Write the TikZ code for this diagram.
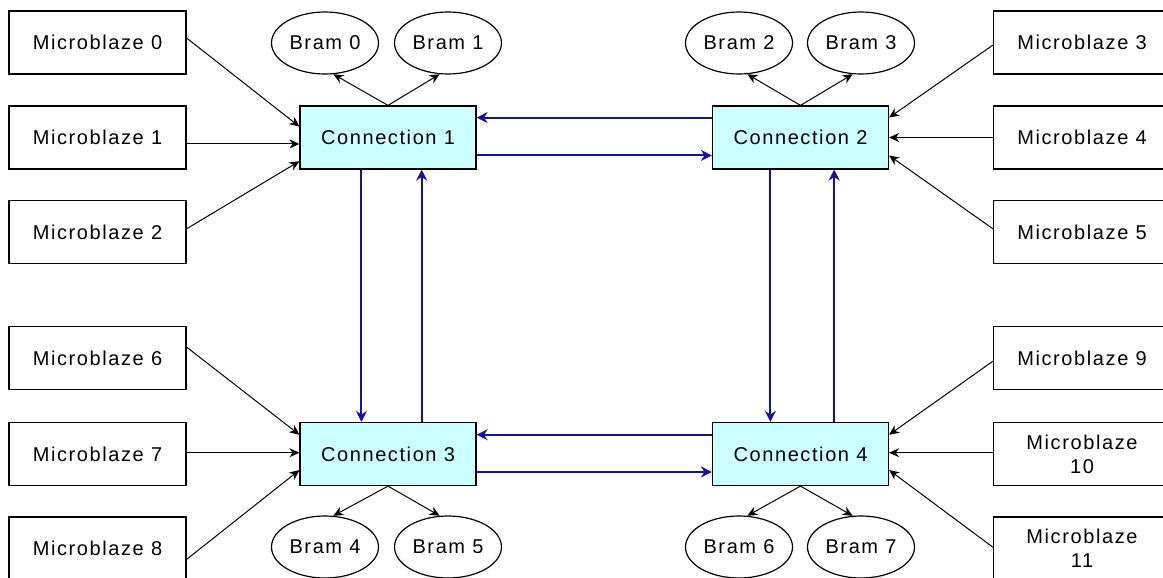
\documentclass[tikz,border=0pt]{standalone}
\usepackage{fontspec}
\setmainfont{Liberation Sans}[LetterSpace=8]
\usepackage{tikz}
\usetikzlibrary{positioning,calc,shapes.geometric,arrows.meta}
\definecolor{conncyan}{RGB}{204,255,255}
\definecolor{linkblue}{RGB}{20,20,150}
\tikzset{
	every mb/.style={
		draw,
		rectangle,
		line width=0.6pt,
		minimum width=88.5pt,
		minimum height=31.5pt,
		inner sep=0pt,
		align=center },
	every conn/.style={
		draw,
		fill=conncyan,
		line width=0.6pt,
		minimum width=88pt,
		minimum height=31.5pt,
		inner sep=0pt },
	every bram/.style={
		draw,
		ellipse,
		line width=0.6pt,
		minimum width=53.5pt,
		minimum height=31pt,
		inner sep=0pt },
	wire/.style={
		->,
		line width=0.5pt,
		>={Stealth[length=5pt,width=4.5pt]} },
	link/.style={
		->,
		draw=linkblue,
		line width=1pt,
		>={Stealth[length=5.5pt,width=5.5pt]} },
}

\begin{document}
\begin{tikzpicture}[x=0.5pt, y=-0.5pt]

		\useasboundingbox (0,0) rectangle (1163,578);

		% processors, left and right columns
		\foreach \m/\l/\y in {0/Microblaze 0/42.5, 1/Microblaze 1/137.5, 2/Microblaze 2/232,
			6/Microblaze 6/358, 7/Microblaze 7/454, 8/Microblaze 8/548.5}
		\node [every mb/.try] (mb-\m) at (97.5,\y) {\l};

		\foreach \m/\l/\y in {3/Microblaze 3/42.5, 4/Microblaze 4/137.5, 5/Microblaze 5/232,
			9/Microblaze 9/358, 10/Microblaze\\10/454, 11/Microblaze\\11/548.5}
		\node [every mb/.try] (mb-\m) at (1082,\y) {\l};

		% connection blocks
		\foreach \c/\x/\y in {1/388/137.5, 2/800.5/137.5, 3/388/454, 4/800.5/454}
		\node [every conn/.try] (conn-\c) at (\x,\y) {Connection \c};

		% memories
		\foreach \b/\x/\y in {0/325/43, 1/448/43, 2/739/43, 3/861/43,
			4/325/547, 5/448/547, 6/739/547, 7/861/547}
		\node [every bram/.try] (bram-\b) at (\x,\y) {Bram \b};

		\foreach \c/\a/\b in {1/0/1, 2/2/3}
		{
		\draw [wire] (conn-\c.north) -- (bram-\a.-75);
		\draw [wire] (conn-\c.north) -- (bram-\b.-105);
		}

		\foreach \c/\a/\b in {3/4/5, 4/6/7}
		{
		\draw [wire] (conn-\c.south) -- (bram-\a.75);
		\draw [wire] (conn-\c.south) -- (bram-\b.105);
		}

		% processor inputs
		\foreach \m/\c/\s/\t in {0/1/0.43/0.33, 1/1/0.6/0.6, 2/1/0.45/0.87,
			6/3/0.33/0.2, 7/3/0.48/0.48, 8/3/0.67/0.75}
		\draw [wire] ($(mb-\m.north east)!\s!(mb-\m.south east)$)
		-- ($(conn-\c.north west)!\t!(conn-\c.south west)$);

		\foreach \m/\c/\s/\t in {3/2/0.54/0.19, 4/2/0.5/0.5, 5/2/0.45/0.78,
			9/4/0.55/0.2, 10/4/0.48/0.48, 11/4/0.48/0.75}
		\draw [wire] ($(mb-\m.north west)!\s!(mb-\m.south west)$)
		-- ($(conn-\c.north east)!\t!(conn-\c.south east)$);

		% links between connections
		\foreach \a/\b/\f in {2/1/0.19, 4/3/0.2}
		\draw [link] ($(conn-\a.north west)!\f!(conn-\a.south west)$) coordinate (h)
		-- (h -| conn-\b.east);

		\foreach \a/\b/\f in {1/2/0.78, 3/4/0.78}
		\draw [link] ($(conn-\a.north east)!\f!(conn-\a.south east)$) coordinate (h)
		-- (h -| conn-\b.west);

		\foreach \a/\b/\f in {1/3/0.35, 2/4/0.33}
		\draw [link] ($(conn-\a.south west)!\f!(conn-\a.south east)$) coordinate (v)
		-- (v |- conn-\b.north);

		\foreach \a/\b/\f in {3/1/0.69, 4/2/0.69}
		\draw [link] ($(conn-\a.north west)!\f!(conn-\a.north east)$) coordinate (v)
		-- (v |- conn-\b.south);
	\end{tikzpicture}
\end{document}
